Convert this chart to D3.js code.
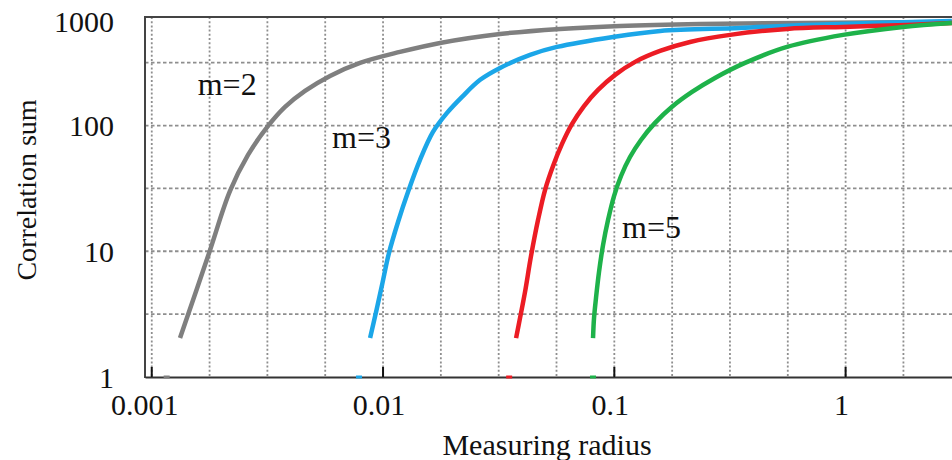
<!DOCTYPE html>
<html><head><meta charset="utf-8">
<script src="https://cdn.jsdelivr.net/npm/d3@7/dist/d3.min.js"></script>
<style>
body{margin:0;background:#fff;}
svg{display:block;}
text{font-family:"Liberation Serif","Times New Roman",serif;fill:#111;}
</style>
</head><body>
<svg id="chart" width="952" height="460"></svg>
<script>
// ---- data ----
const seriesNames = ["m=2", "m=3", "m=4", "m=5"];
const radiusM2 = [0.001325, 0.00177, 0.00218, 0.002608, 0.00316, 0.00377, 0.0046, 0.0059, 0.007955, 0.01184, 0.01764, 0.03205, 0.05823, 0.1058, 0.2347, 0.6349, 2.88];
const sumM2    = [2.04, 9.7, 30.2, 58.4, 97.5, 140.6, 188.5, 248, 315, 385, 454, 535, 587, 620, 643, 655, 667];
const radiusM3 = [0.00879, 0.00933, 0.0099, 0.01061, 0.01161, 0.01282, 0.01445, 0.01644, 0.01891, 0.02196, 0.0263, 0.03205, 0.0432, 0.0565, 0.0987, 0.158, 0.349, 0.681, 2.88];
const sumM3    = [2.04, 3.29, 5.39, 9.7, 17.1, 29.6, 53.3, 88.9, 126, 169, 231, 287, 365, 422, 507, 566, 598, 631, 679];
const radiusM4 = [0.0376, 0.03912, 0.04111, 0.04364, 0.04678, 0.05016, 0.05433, 0.05941, 0.06566, 0.07396, 0.08502, 0.1008, 0.123, 0.1576, 0.2125, 0.3164, 0.558, 0.975, 1.84, 2.88];
const sumM4    = [2.04, 2.95, 4.75, 9.18, 17.7, 30.7, 47.7, 71.4, 103, 143, 192, 253, 321, 392, 462, 526, 587, 609, 631, 655];
const radiusM5 = [0.0809, 0.08171, 0.08333, 0.08586, 0.08937, 0.09393, 0.0997, 0.1069, 0.1169, 0.1304, 0.15, 0.1776, 0.2168, 0.2724, 0.3673, 0.558, 0.975, 1.77, 2.88];
const sumM5    = [2.04, 2.95, 4.25, 6.84, 11.2, 17.7, 27.5, 39.7, 56.2, 76.8, 105, 141, 185, 239, 315, 422, 526, 609, 655];
const zeroLevelRadius = [0.00116, 0.00787, 0.0351, 0.0809];
const seriesColors = ["#7f7f7f", "#1ba6e8", "#ec1c24", "#1eb24a"];

const xTickValues = [0.001, 0.01, 0.1, 1];
const xTickLabels = ["0.001", "0.01", "0.1", "1"];
const yTickValues = [1, 10, 100, 1000];
const yTickLabels = ["1", "10", "100", "1000"];

const curveLabelText   = ["m=2", "m=3", "m=5"];
const curveLabelRadius = [0.00158, 0.00602, 0.108];
const curveLabelSum    = [175, 66.3, 12.8];

const xTitle = "Measuring radius";
const yTitle = "Correlation sum";

// ---- layout ----
const pLeft = 145, pTop = 17, pRight = 952, pBottom = 377;
const svg = d3.select("#chart");

const x = d3.scaleLog().domain([0.000935, 2.884]).range([pLeft, pRight]);
const y = d3.scaleLog().domain([1, 730]).range([pBottom, pTop]);

// grid
const xGrid = d3.range(-12, 2).map(k => Math.pow(10, k / 4));
const yGrid = d3.range(1, 6).map(k => Math.pow(10, k / 2));

svg.append("defs").append("clipPath").attr("id", "clip")
  .append("rect").attr("x", pLeft).attr("y", pTop).attr("width", pRight - pLeft).attr("height", pBottom - pTop);

const grid = svg.append("g");
grid.selectAll(".vg").data(xGrid).join("line")
  .attr("x1", d => x(d)).attr("x2", d => x(d))
  .attr("y1", pTop).attr("y2", pBottom)
  .attr("stroke", "#8e8e8e").attr("stroke-width", 1.8).attr("stroke-dasharray", "2,2.2");
grid.selectAll(".hg").data(yGrid).join("line")
  .attr("x1", pLeft).attr("x2", pRight)
  .attr("y1", d => y(d)).attr("y2", d => y(d))
  .attr("stroke", "#8e8e8e").attr("stroke-width", 1.8).attr("stroke-dasharray", "3.5,2.5");

// curves
const series = [
  {name: seriesNames[0], r: radiusM2, s: sumM2},
  {name: seriesNames[1], r: radiusM3, s: sumM3},
  {name: seriesNames[2], r: radiusM4, s: sumM4},
  {name: seriesNames[3], r: radiusM5, s: sumM5}
];
const line = d3.line().x(d => x(d[0])).y(d => y(d[1])).curve(d3.curveCatmullRom.alpha(0.5));
const curves = svg.append("g").attr("clip-path", "url(#clip)");
series.forEach((sr, i) => {
  curves.append("path")
    .datum(sr.r.map((r, j) => [r, sr.s[j]]))
    .attr("d", line)
    .attr("fill", "none")
    .attr("stroke", seriesColors[i])
    .attr("stroke-width", 4.5);
});

// frame
svg.append("line").attr("x1", pLeft).attr("x2", pLeft).attr("y1", pTop - 1).attr("y2", pBottom + 1)
  .attr("stroke", "#444").attr("stroke-width", 2);
svg.append("line").attr("x1", pLeft).attr("x2", pRight).attr("y1", pTop).attr("y2", pTop)
  .attr("stroke", "#444").attr("stroke-width", 2);

// x axis
const xAxis = d3.axisBottom(x).tickValues(xTickValues).tickSize(0).tickFormat("");
const gx = svg.append("g").attr("transform", `translate(0,${pBottom})`).call(xAxis);
gx.select(".domain").attr("stroke", "#333").attr("stroke-width", 2);
svg.append("g").selectAll("line").data(xTickValues).join("line")
  .attr("x1", d => x(d)).attr("x2", d => x(d))
  .attr("y1", pBottom).attr("y2", pBottom - 10)
  .attr("stroke", "#111").attr("stroke-width", 2);

// zero-level marks on axis
svg.append("g").selectAll("line").data(zeroLevelRadius).join("line")
  .attr("x1", d => x(d) - 3).attr("x2", d => x(d) + 3)
  .attr("y1", pBottom).attr("y2", pBottom)
  .attr("stroke", (d, i) => seriesColors[i]).attr("stroke-width", 3);

svg.append("g").selectAll("text").data(xTickValues).join("text")
  .attr("x", (d, i) => i === 0 ? x(d) - 7 : x(d) - 4)
  .attr("y", 415)
  .attr("text-anchor", "middle")
  .attr("font-size", 30)
  .text((d, i) => xTickLabels[i]);

// y tick labels
svg.append("g").selectAll("text").data(yTickValues).join("text")
  .attr("x", 114)
  .attr("y", d => Math.max(y(Math.min(d, 730)), pTop + 4))
  .attr("dy", "0.36em")
  .attr("text-anchor", "end")
  .attr("font-size", 30)
  .text((d, i) => yTickLabels[i]);

// curve labels
svg.append("g").selectAll("text").data(curveLabelText).join("text")
  .attr("x", (d, i) => x(curveLabelRadius[i]))
  .attr("y", (d, i) => y(curveLabelSum[i]))
  .attr("font-size", 32)
  .text(d => d);

// titles
svg.append("text").attr("x", 547).attr("y", 455).attr("text-anchor", "middle")
  .attr("font-size", 30).text(xTitle);
svg.append("text").attr("transform", "translate(36,190) rotate(-90)")
  .attr("text-anchor", "middle").attr("font-size", 28).text(yTitle);
</script>
</body></html>
